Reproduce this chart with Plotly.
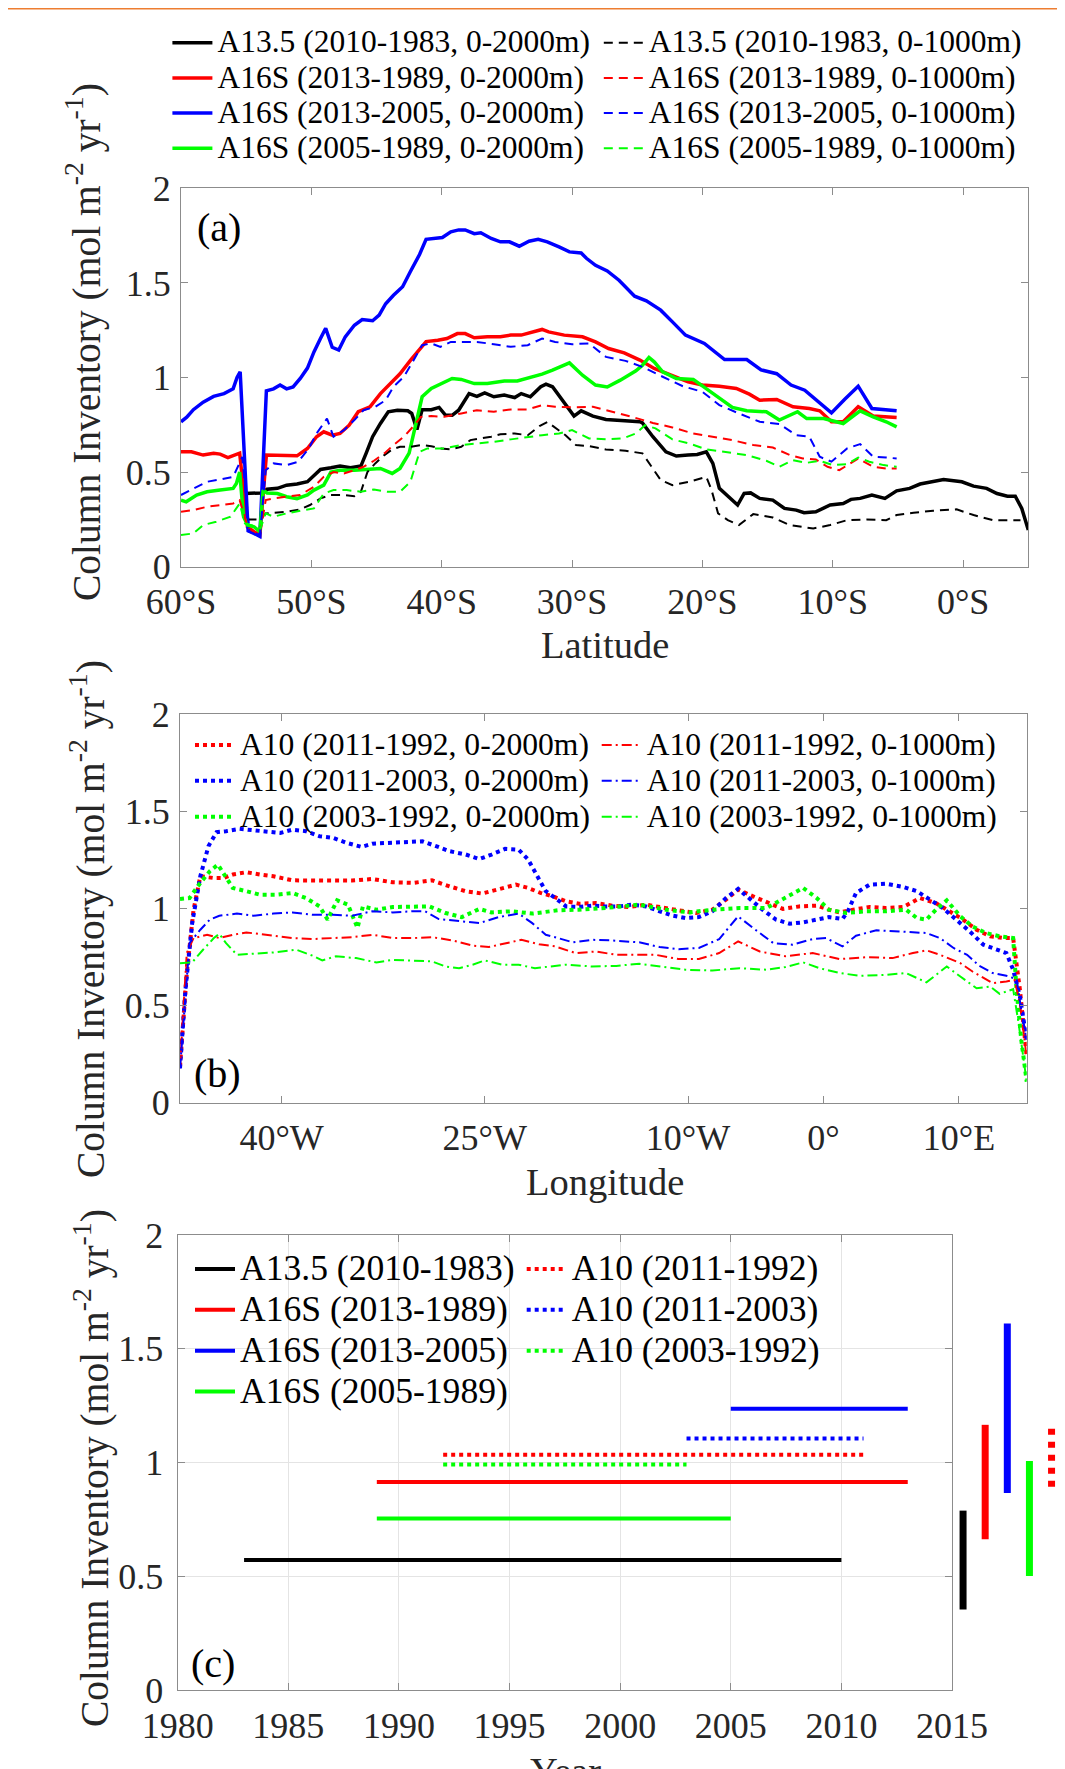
import plotly.graph_objects as go

# ---------------- Panel (a): latitude sections ----------------
a_names = [
    "A13.5 (2010-1983, 0-2000m)", "A16S (2013-1989, 0-2000m)",
    "A16S (2013-2005, 0-2000m)", "A16S (2005-1989, 0-2000m)",
    "A13.5 (2010-1983, 0-1000m)", "A16S (2013-1989, 0-1000m)",
    "A16S (2013-2005, 0-1000m)", "A16S (2005-1989, 0-1000m)",
]
a_lat_tick_vals = [-60, -50, -40, -30, -20, -10, 0]
a_lat_tick_text = ["60°S", "50°S", "40°S", "30°S", "20°S", "10°S", "0°S"]

lat_a135_2000 = [-55.1, -53.8, -53.4, -52.6, -51.9, -51.1, -50.3, -49.8, -49.3, -48.5, -47.8, -47.0, -46.2, -45.8, -45.3, -44.7, -44.1, -43.4, -42.6, -42.3, -41.9, -41.5, -40.8, -40.2, -39.7, -39.2, -38.7, -37.9, -37.3, -36.7, -36.0, -35.2, -34.4, -33.9, -33.2, -32.4, -32.0, -31.5, -30.6, -29.85, -29.3, -28.4, -27.4, -26.1, -24.8, -24.6, -23.8, -22.8, -22.0, -21.1, -20.4, -19.7, -19.2, -18.7, -17.9, -17.3, -16.8, -16.3, -15.6, -14.6, -13.7, -12.8, -12.2, -11.3, -10.2, -9.2, -8.6, -7.9, -7.0, -6.0, -5.1, -4.1, -3.3, -2.5, -1.5, -0.1, 0.8, 1.8, 2.6, 3.4, 4.0, 4.5, 5.0]
val_a135_2000 = [0.387, 0.39, 0.41, 0.414, 0.431, 0.437, 0.449, 0.484, 0.514, 0.523, 0.532, 0.523, 0.532, 0.599, 0.687, 0.757, 0.819, 0.827, 0.824, 0.81, 0.725, 0.83, 0.83, 0.842, 0.80, 0.80, 0.827, 0.915, 0.90, 0.919, 0.898, 0.907, 0.894, 0.915, 0.898, 0.951, 0.965, 0.951, 0.863, 0.796, 0.824, 0.796, 0.778, 0.771, 0.766, 0.76, 0.687, 0.607, 0.585, 0.59, 0.593, 0.607, 0.546, 0.414, 0.361, 0.326, 0.387, 0.39, 0.361, 0.352, 0.308, 0.299, 0.285, 0.29, 0.326, 0.334, 0.356, 0.361, 0.379, 0.361, 0.401, 0.414, 0.437, 0.449, 0.461, 0.449, 0.426, 0.414, 0.387, 0.373, 0.373, 0.308, 0.194]

lat_a16_8913_2000 = [-60, -59.2, -58.3, -57.5, -57.0, -56.4, -55.5, -54.9, -54.4, -53.95, -53.45, -52.6, -51.9, -51.1, -50.3, -49.6, -49.05, -48.4, -47.8, -47.1, -46.4, -45.5, -44.7, -43.9, -43.2, -42.4, -41.7, -41.2, -40.3, -39.6, -38.8, -38.2, -37.5, -36.5, -35.5, -34.7, -33.9, -32.9, -32.3, -31.8, -30.6, -29.2, -28.2, -27.2, -26.0, -24.8, -23.7, -22.4, -21.1, -20.0, -18.7, -17.4, -16.4, -15.6, -14.3, -13.05, -11.8, -11.0, -10.1, -9.2, -8.05, -6.9, -5.1]
val_a16_8913_2000 = [0.607, 0.607, 0.59, 0.60, 0.595, 0.577, 0.60, 0.21, 0.185, 0.167, 0.59, 0.59, 0.59, 0.586, 0.625, 0.687, 0.713, 0.695, 0.704, 0.748, 0.819, 0.845, 0.915, 0.968, 1.02, 1.09, 1.15, 1.19, 1.197, 1.206, 1.232, 1.232, 1.21, 1.215, 1.215, 1.224, 1.224, 1.241, 1.254, 1.241, 1.224, 1.215, 1.188, 1.153, 1.13, 1.092, 1.048, 1.012, 0.977, 0.96, 0.954, 0.942, 0.912, 0.88, 0.884, 0.845, 0.836, 0.824, 0.766, 0.766, 0.845, 0.796, 0.789]

lat_a16_0513_2000 = [-60, -59.56, -59.05, -58.3, -57.5, -56.7, -56.0, -55.7, -55.46, -54.85, -54.4, -53.95, -53.45, -52.9, -52.4, -51.9, -51.4, -50.85, -50.3, -49.8, -49.3, -48.9, -48.4, -47.9, -47.4, -46.7, -46.1, -45.3, -44.8, -44.3, -43.7, -43.0, -42.4, -41.7, -41.2, -40.6, -39.95, -39.3, -38.7, -38.2, -37.5, -37.0, -36.2, -35.5, -34.8, -34.05, -33.3, -32.6, -31.9, -31.0, -30.2, -29.3, -28.9, -28.2, -27.3, -26.4, -25.2, -24.3, -23.2, -22.3, -21.3, -19.85, -19.2, -18.3, -16.6, -15.5, -14.3, -13.2, -12.15, -11.1, -10.1, -9.1, -8.05, -7.0, -6.1, -5.1]
val_a16_0513_2000 = [0.766, 0.79, 0.83, 0.87, 0.90, 0.915, 0.94, 1.0, 1.03, 0.19, 0.176, 0.16, 0.93, 0.94, 0.96, 0.94, 0.95, 0.995, 1.05, 1.135, 1.206, 1.26, 1.16, 1.145, 1.215, 1.276, 1.306, 1.30, 1.33, 1.39, 1.435, 1.48, 1.56, 1.65, 1.73, 1.735, 1.74, 1.77, 1.78, 1.78, 1.76, 1.765, 1.735, 1.717, 1.717, 1.694, 1.72, 1.73, 1.717, 1.69, 1.664, 1.658, 1.63, 1.593, 1.563, 1.514, 1.43, 1.405, 1.356, 1.294, 1.224, 1.18, 1.144, 1.095, 1.095, 1.04, 1.02, 0.96, 0.933, 0.87, 0.813, 0.884, 0.954, 0.836, 0.83, 0.824]

lat_a16_8905_2000 = [-60, -59.6, -58.8, -58.0, -57.0, -56.0, -55.75, -55.5, -55.2, -54.9, -54.4, -53.95, -53.7, -53.4, -52.6, -51.9, -51.1, -50.3, -49.8, -49.05, -48.5, -47.8, -46.7, -45.7, -44.7, -43.8, -43.2, -42.5, -42.0, -41.5, -40.8, -39.95, -39.2, -38.5, -37.5, -36.5, -35.2, -34.2, -33.2, -32.3, -31.5, -30.2, -29.2, -28.2, -27.3, -26.3, -25.1, -24.6, -24.1, -23.7, -23.05, -22.0, -20.7, -19.7, -18.7, -17.7, -16.6, -15.1, -14.1, -12.7, -12.0, -10.7, -9.2, -7.9, -6.9, -5.9, -5.1]
val_a16_8905_2000 = [0.352, 0.343, 0.379, 0.396, 0.405, 0.414, 0.44, 0.50, 0.264, 0.22, 0.211, 0.185, 0.405, 0.39, 0.387, 0.37, 0.36, 0.379, 0.405, 0.431, 0.50, 0.51, 0.51, 0.516, 0.519, 0.493, 0.519, 0.60, 0.757, 0.898, 0.942, 0.968, 0.995, 0.99, 0.968, 0.968, 0.982, 0.982, 1.0, 1.018, 1.039, 1.077, 1.012, 0.96, 0.95, 0.986, 1.035, 1.065, 1.106, 1.083, 1.03, 0.995, 0.99, 0.942, 0.89, 0.842, 0.824, 0.819, 0.775, 0.819, 0.783, 0.783, 0.757, 0.824, 0.792, 0.766, 0.739]

lat_a135_1000 = [-54.9, -53.9, -53.5, -52.9, -51.9, -50.85, -50.1, -49.3, -48.5, -47.5, -46.7, -46.2, -45.7, -45.1, -44.4, -43.8, -43.2, -42.4, -41.6, -40.8, -40.1, -39.3, -38.5, -37.8, -37.0, -36.2, -35.5, -34.4, -33.4, -32.5, -31.9, -31.2, -30.5, -29.7, -28.7, -27.4, -25.9, -24.6, -23.9, -23.2, -22.3, -21.0, -19.7, -19.3, -18.8, -18.05, -17.2, -16.1, -14.6, -13.3, -11.5, -10.2, -8.9, -7.4, -5.9, -5.1, -3.8, -2.3, -0.5, 0.8, 2.3, 3.4, 4.4]
val_a135_1000 = [0.25, 0.25, 0.282, 0.285, 0.29, 0.303, 0.326, 0.361, 0.379, 0.379, 0.373, 0.396, 0.50, 0.546, 0.59, 0.62, 0.634, 0.634, 0.643, 0.637, 0.625, 0.62, 0.634, 0.669, 0.678, 0.687, 0.70, 0.704, 0.695, 0.743, 0.765, 0.73, 0.695, 0.643, 0.637, 0.62, 0.613, 0.599, 0.528, 0.458, 0.431, 0.449, 0.475, 0.405, 0.282, 0.246, 0.22, 0.278, 0.26, 0.22, 0.202, 0.22, 0.246, 0.25, 0.246, 0.273, 0.285, 0.296, 0.303, 0.273, 0.246, 0.246, 0.246]

lat_a16_8913_1000 = [-60, -59.05, -58.0, -57.0, -56.0, -55.5, -54.85, -53.95, -53.5, -52.9, -51.9, -50.85, -49.8, -49.05, -48.3, -47.5, -46.7, -46.0, -45.2, -44.4, -43.7, -42.9, -42.1, -41.6, -40.8, -39.8, -38.5, -37.3, -36.0, -34.7, -33.4, -32.3, -31.3, -30.0, -28.4, -26.9, -25.4, -23.8, -22.3, -20.7, -19.2, -17.7, -16.1, -14.6, -13.3, -12.3, -11.3, -10.4, -9.5, -8.05, -6.9, -5.9, -5.1]
val_a16_8913_1000 = [0.29, 0.299, 0.317, 0.326, 0.334, 0.352, 0.202, 0.167, 0.352, 0.361, 0.37, 0.379, 0.423, 0.475, 0.50, 0.493, 0.51, 0.528, 0.56, 0.599, 0.643, 0.687, 0.748, 0.792, 0.796, 0.792, 0.81, 0.827, 0.819, 0.831, 0.831, 0.854, 0.845, 0.842, 0.845, 0.819, 0.792, 0.76, 0.736, 0.704, 0.687, 0.669, 0.643, 0.63, 0.59, 0.572, 0.567, 0.528, 0.51, 0.572, 0.528, 0.519, 0.519]

lat_a16_0513_1000 = [-60, -59.05, -58.0, -57.0, -56.0, -55.3, -54.75, -53.95, -53.5, -52.9, -51.9, -51.0, -50.2, -49.6, -48.8, -48.3, -47.5, -46.7, -46.0, -45.1, -44.3, -43.7, -42.9, -42.3, -41.5, -40.8, -40.1, -39.3, -38.3, -37.3, -36.0, -34.7, -33.4, -32.3, -31.3, -30.0, -28.7, -27.4, -25.9, -24.6, -23.05, -21.5, -20.0, -18.7, -17.2, -15.6, -14.1, -12.8, -11.8, -11.0, -10.1, -8.9, -7.9, -6.9, -5.9, -5.1]
val_a16_0513_1000 = [0.379, 0.414, 0.449, 0.461, 0.475, 0.58, 0.185, 0.162, 0.51, 0.546, 0.537, 0.555, 0.625, 0.704, 0.783, 0.687, 0.722, 0.775, 0.827, 0.845, 0.88, 0.951, 1.004, 1.074, 1.171, 1.18, 1.162, 1.188, 1.188, 1.188, 1.176, 1.162, 1.171, 1.206, 1.188, 1.176, 1.18, 1.109, 1.088, 1.056, 1.004, 0.954, 0.924, 0.854, 0.81, 0.766, 0.754, 0.695, 0.687, 0.581, 0.555, 0.625, 0.648, 0.581, 0.577, 0.572]

lat_a16_8905_1000 = [-60, -59.05, -58.3, -57.3, -56.2, -55.5, -55.1, -54.6, -53.9, -53.5, -52.9, -51.9, -50.85, -49.8, -49.05, -48.3, -47.3, -46.2, -45.2, -44.2, -43.2, -42.4, -41.7, -41.1, -39.8, -38.5, -37.3, -36.0, -34.7, -33.4, -32.3, -31.0, -30.0, -28.7, -27.4, -26.1, -25.1, -24.4, -23.6, -22.3, -21.0, -19.7, -18.2, -16.6, -15.1, -14.1, -13.05, -12.0, -11.0, -10.0, -8.9, -8.05, -7.2, -6.1, -5.1]
val_a16_8905_1000 = [0.167, 0.176, 0.22, 0.238, 0.264, 0.334, 0.229, 0.22, 0.202, 0.282, 0.264, 0.282, 0.296, 0.308, 0.387, 0.405, 0.405, 0.396, 0.408, 0.396, 0.396, 0.449, 0.607, 0.625, 0.625, 0.643, 0.651, 0.66, 0.673, 0.687, 0.695, 0.704, 0.722, 0.678, 0.673, 0.678, 0.704, 0.748, 0.731, 0.673, 0.651, 0.62, 0.607, 0.59, 0.56, 0.528, 0.563, 0.549, 0.56, 0.537, 0.542, 0.577, 0.555, 0.537, 0.528]

# ---------------- Panel (b): A10 longitude section ----------------
b_names = [
    "A10 (2011-1992, 0-2000m)", "A10 (2011-2003, 0-2000m)", "A10 (2003-1992, 0-2000m)",
    "A10 (2011-1992, 0-1000m)", "A10 (2011-2003, 0-1000m)", "A10 (2003-1992, 0-1000m)",
]
b_lon_tick_vals = [-40, -25, -10, 0, 10]
b_lon_tick_text = ["40°W", "25°W", "10°W", "0°", "10°E"]

lon_r_2000 = [-47.5, -47.0, -46.5, -46.0, -45.0, -44.3, -43.6, -42.6, -41.6, -40.6, -39.2, -37.7, -36.2, -34.8, -33.3, -31.8, -30.3, -28.9, -27.6, -26.4, -25.2, -24.0, -22.7, -21.8, -20.9, -20.0, -19.0, -18.05, -16.8, -15.6, -14.4, -13.1, -11.9, -10.7, -9.4, -8.2, -7.2, -6.3, -5.2, -4.0, -3.0, -1.8, -0.5, 0.4, 1.2, 2.2, 3.4, 4.6, 5.9, 7.1, 8.3, 9.3, 10.3, 11.3, 12.3, 13.3, 14.0, 14.5, 15.0]
val_r_2000 = [0.186, 0.667, 0.993, 1.165, 1.156, 1.156, 1.174, 1.186, 1.174, 1.165, 1.144, 1.143, 1.143, 1.143, 1.151, 1.134, 1.131, 1.144, 1.113, 1.088, 1.076, 1.10, 1.122, 1.105, 1.08, 1.062, 1.036, 1.024, 1.027, 1.014, 1.007, 1.019, 1.002, 0.99, 0.976, 0.993, 1.045, 1.096, 1.062, 1.027, 0.997, 1.01, 1.014, 0.993, 0.979, 0.993, 1.007, 1.002, 1.007, 1.053, 1.027, 0.985, 0.942, 0.89, 0.856, 0.847, 0.847, 0.581, 0.237]

lon_b_2000 = [-47.5, -47.1, -46.6, -46.0, -45.4, -44.8, -44.1, -43.1, -42.1, -41.1, -40.1, -39.2, -38.2, -37.2, -36.2, -35.2, -34.1, -33.3, -32.1, -30.8, -29.6, -28.6, -27.6, -26.4, -25.4, -24.5, -23.5, -22.5, -21.8, -21.0, -20.5, -19.8, -19.0, -18.05, -17.1, -16.1, -15.1, -14.1, -13.1, -12.1, -11.1, -10.2, -9.2, -8.2, -7.2, -6.3, -5.5, -4.5, -3.5, -2.5, -1.5, -0.5, 0.4, 1.4, 1.8, 2.4, 3.4, 4.6, 5.9, 6.9, 7.8, 8.8, 9.8, 10.8, 11.8, 12.8, 13.5, 14.0, 14.5, 15.0]
val_b_2000 = [0.177, 0.58, 0.924, 1.165, 1.32, 1.392, 1.397, 1.409, 1.402, 1.397, 1.388, 1.405, 1.397, 1.371, 1.363, 1.337, 1.316, 1.333, 1.337, 1.34, 1.345, 1.32, 1.294, 1.277, 1.254, 1.277, 1.306, 1.302, 1.251, 1.15, 1.088, 1.053, 1.01, 1.007, 1.014, 1.01, 1.01, 1.019, 1.01, 0.985, 0.962, 0.95, 0.955, 0.985, 1.053, 1.10, 1.053, 0.993, 0.942, 0.921, 0.928, 0.945, 0.955, 0.945, 0.985, 1.079, 1.122, 1.127, 1.11, 1.088, 1.045, 1.002, 0.942, 0.881, 0.813, 0.787, 0.77, 0.684, 0.546, 0.323]

lon_g_2000 = [-47.5, -46.8, -46.0, -45.3, -44.7, -44.2, -43.6, -42.6, -41.6, -40.4, -39.2, -38.2, -37.2, -36.6, -35.9, -35.1, -34.4, -34.0, -33.0, -31.8, -30.3, -29.1, -27.9, -26.7, -25.4, -24.5, -23.0, -21.5, -19.6, -18.05, -16.1, -13.6, -11.6, -9.9, -8.2, -6.2, -4.2, -2.8, -1.5, -0.5, 0.4, 1.7, 3.2, 4.6, 6.1, 6.9, 7.6, 8.3, 9.1, 10.1, 11.0, 12.0, 13.0, 14.0, 14.25, 14.6, 15.0]
val_g_2000 = [1.048, 1.053, 1.131, 1.191, 1.225, 1.174, 1.105, 1.088, 1.07, 1.07, 1.079, 1.053, 1.01, 0.942, 1.041, 1.019, 0.899, 1.01, 0.993, 1.007, 1.01, 1.01, 0.976, 0.955, 0.997, 0.979, 0.985, 0.973, 0.99, 0.993, 1.002, 1.019, 0.993, 0.979, 0.993, 1.002, 1.002, 1.053, 1.105, 1.053, 0.993, 0.976, 0.985, 0.985, 0.993, 0.95, 0.942, 0.993, 1.041, 0.959, 0.907, 0.873, 0.856, 0.847, 0.581, 0.323, 0.108]

lon_r_1000 = [-47.5, -47.0, -46.5, -45.5, -44.6, -43.6, -42.6, -41.1, -39.2, -37.7, -36.2, -34.8, -33.3, -31.8, -30.3, -28.9, -27.4, -25.9, -24.7, -23.5, -22.3, -21.0, -19.8, -18.3, -16.8, -15.3, -13.6, -12.4, -10.7, -9.2, -7.7, -6.3, -4.7, -2.8, -0.8, 1.2, 3.2, 5.1, 6.6, 7.6, 8.6, 10.1, 11.0, 12.5, 13.5, 14.1, 14.5, 15.0]
val_r_1000 = [0.186, 0.77, 0.847, 0.864, 0.847, 0.864, 0.876, 0.864, 0.847, 0.842, 0.847, 0.852, 0.864, 0.847, 0.847, 0.852, 0.835, 0.808, 0.801, 0.821, 0.838, 0.815, 0.804, 0.77, 0.778, 0.761, 0.761, 0.761, 0.739, 0.739, 0.77, 0.83, 0.778, 0.753, 0.77, 0.739, 0.749, 0.744, 0.77, 0.784, 0.761, 0.718, 0.675, 0.615, 0.624, 0.632, 0.512, 0.237]

lon_b_1000 = [-47.5, -46.8, -46.0, -45.3, -44.6, -43.3, -42.1, -40.6, -39.2, -37.7, -36.2, -34.8, -33.3, -31.8, -30.3, -29.4, -28.4, -26.9, -25.4, -24.0, -22.5, -21.5, -20.5, -19.6, -18.5, -17.1, -15.6, -13.6, -12.1, -10.7, -9.2, -7.7, -6.3, -5.2, -3.7, -2.3, -0.8, 0.2, 1.4, 2.4, 3.9, 5.6, 7.6, 8.6, 9.6, 10.6, 11.5, 12.5, 13.5, 14.25, 14.6, 15.0]
val_b_1000 = [0.177, 0.821, 0.89, 0.942, 0.962, 0.973, 0.962, 0.973, 0.979, 0.967, 0.967, 0.962, 0.985, 0.979, 0.985, 0.985, 0.945, 0.936, 0.924, 0.955, 0.973, 0.924, 0.864, 0.847, 0.825, 0.838, 0.835, 0.825, 0.801, 0.79, 0.796, 0.842, 0.959, 0.899, 0.821, 0.813, 0.842, 0.847, 0.804, 0.859, 0.887, 0.881, 0.873, 0.847, 0.796, 0.761, 0.704, 0.667, 0.653, 0.636, 0.478, 0.323]

lon_g_1000 = [-47.5, -46.6, -45.8, -45.0, -44.6, -44.1, -43.3, -42.1, -40.6, -38.9, -37.7, -37.0, -36.0, -34.5, -33.0, -31.8, -30.3, -28.9, -27.9, -26.9, -25.9, -25.0, -23.7, -22.5, -21.3, -19.6, -19.0, -17.1, -15.3, -13.6, -12.1, -10.2, -8.2, -6.2, -4.2, -2.8, -1.5, -0.3, 1.2, 2.7, 4.6, 6.1, 7.6, 8.3, 9.1, 10.1, 11.3, 12.3, 13.0, 14.0, 14.4, 15.0]
val_g_1000 = [0.718, 0.722, 0.787, 0.847, 0.869, 0.821, 0.761, 0.765, 0.773, 0.787, 0.756, 0.732, 0.753, 0.744, 0.722, 0.735, 0.732, 0.727, 0.701, 0.692, 0.71, 0.732, 0.71, 0.71, 0.692, 0.704, 0.71, 0.701, 0.704, 0.715, 0.701, 0.684, 0.68, 0.692, 0.684, 0.698, 0.722, 0.692, 0.667, 0.653, 0.658, 0.667, 0.619, 0.658, 0.701, 0.649, 0.589, 0.598, 0.56, 0.584, 0.409, 0.108]

# ---------------- Panel (c): section means over time ----------------
c_names = ["A13.5 (2010-1983)", "A16S (2013-1989)", "A16S (2013-2005)", "A16S (2005-1989)",
           "A10 (2011-1992)", "A10 (2011-2003)", "A10 (2003-1992)"]
c_start = [1983, 1989, 2005, 1989, 1992, 2003, 1992]
c_end = [2010, 2013, 2013, 2005, 2011, 2011, 2003]
c_mean = [0.572, 0.915, 1.237, 0.754, 1.035, 1.106, 0.992]
bar_x = [2015.5, 2016.5, 2017.5, 2018.5, 2019.5]
bar_lo = [0.355, 0.663, 0.866, 0.502, 0.894]
bar_hi = [0.789, 1.166, 1.611, 1.007, 1.158]

# ---------------- styling ----------------
W, H = 1065, 1769
OFF = 8  # the page body adds an 8px margin around the figure
BLACK, RED, BLUE, GREEN = "#000000", "#FF0000", "#0000FF", "#00FF00"
FONT = "Liberation Serif"
AXC = "#8c8c8c"


def px_x(p):
    return (p - OFF) / W


def px_y(p):
    return 1 - (p - OFF) / H


def lbl(text, size):
    return f'<span style="font-size:{size}px">{text}</span>'


fig = go.Figure()


def line(x, y, xa, ya, color, width, dash, name=None, legend=None):
    fig.add_trace(go.Scatter(
        x=x, y=y, xaxis=xa, yaxis=ya, mode="lines",
        line=dict(color=color, width=width, dash=dash),
        name=name if name else "", legend=legend,
        showlegend=name is not None, hoverinfo="skip"))


# panel (a)
DASH_A = "9px,6px"
a_series = [
    (lat_a135_2000, val_a135_2000, BLACK, 3.5, "solid", "legend"),
    (lat_a16_8913_2000, val_a16_8913_2000, RED, 3.5, "solid", "legend"),
    (lat_a16_0513_2000, val_a16_0513_2000, BLUE, 3.5, "solid", "legend"),
    (lat_a16_8905_2000, val_a16_8905_2000, GREEN, 3.5, "solid", "legend"),
    (lat_a135_1000, val_a135_1000, BLACK, 2, DASH_A, "legend2"),
    (lat_a16_8913_1000, val_a16_8913_1000, RED, 2, DASH_A, "legend2"),
    (lat_a16_0513_1000, val_a16_0513_1000, BLUE, 2, DASH_A, "legend2"),
    (lat_a16_8905_1000, val_a16_8905_1000, GREEN, 2, DASH_A, "legend2"),
]
for (x, y, c, w, d, lg), nm in zip(a_series, a_names):
    line(x, y, "x", "y", c, w, d, lbl(nm, 31.5), lg)

# panel (b)
DASHDOT_B = "10px,4px,2px,4px"
b_series = [
    (lon_r_2000, val_r_2000, RED, 4, "dot", "legend3"),
    (lon_b_2000, val_b_2000, BLUE, 4, "dot", "legend3"),
    (lon_g_2000, val_g_2000, GREEN, 4, "dot", "legend3"),
    (lon_r_1000, val_r_1000, RED, 2, DASHDOT_B, "legend4"),
    (lon_b_1000, val_b_1000, BLUE, 2, DASHDOT_B, "legend4"),
    (lon_g_1000, val_g_1000, GREEN, 2, DASHDOT_B, "legend4"),
]
for (x, y, c, w, d, lg), nm in zip(b_series, b_names):
    line(x, y, "x2", "y2", c, w, d, lbl(nm, 31.6), lg)

# panel (c)
c_colors = [BLACK, RED, BLUE, GREEN, RED, BLUE, GREEN]
c_dash = ["solid"] * 4 + ["dot"] * 3
c_leg = ["legend5"] * 4 + ["legend6"] * 3
for i, nm in enumerate(c_names):
    line([c_start[i], c_end[i]], [c_mean[i], c_mean[i]], "x3", "y3",
         c_colors[i], 4, c_dash[i], lbl(nm, 35.6), c_leg[i])
for i in range(len(bar_x)):
    line([bar_x[i], bar_x[i]], [bar_lo[i], bar_hi[i]], "x4", "y4",
         c_colors[i], 7, "6px,7px" if c_dash[i] == "dot" else "solid")

axis_common = dict(
    showline=True, linecolor=AXC, linewidth=1.3, mirror="ticks",
    ticks="inside", ticklen=7, tickwidth=1.3, tickcolor=AXC,
    tickfont=dict(family=FONT, size=36, color="#262626"),
    showgrid=False, zeroline=False, fixedrange=True, automargin=False,
)
yvals = [0, 0.5, 1, 1.5, 2]
ytext = ["0", "0.5", "1", "1.5", "2"]

a_top, a_bot, a_l, a_r = 188.3, 566.7, 181.0, 1028.3
b_top, b_bot, b_l, b_r = 714.0, 1102.7, 180.0, 1026.7
c_top, c_bot, c_l, c_r = 1235.0, 1690.2, 177.7, 952.0
c_year0, c_year1 = 1980, 2015
c_ext_r = 1064.0
c_ext_year = c_year0 + (c_ext_r - c_l) * (c_year1 - c_year0) / (c_r - c_l)

xstand = dict(ticklabelstandoff=3)
ystand = dict(ticklabelstandoff=2)

fig.update_layout(
    width=W, height=H, margin=dict(l=0, r=0, t=0, b=0, pad=0, autoexpand=False),
    paper_bgcolor="white", plot_bgcolor="rgba(0,0,0,0)",
    font=dict(family=FONT, color="#262626"),
    xaxis=dict(axis_common, **xstand, domain=[px_x(a_l), px_x(a_r)], range=[-60, 5],
               tickvals=a_lat_tick_vals, ticktext=a_lat_tick_text, anchor="y"),
    yaxis=dict(axis_common, **ystand, domain=[px_y(a_bot), px_y(a_top)], range=[0, 2],
               tickvals=yvals, ticktext=ytext, anchor="x"),
    xaxis2=dict(axis_common, **xstand, domain=[px_x(b_l), px_x(b_r)], range=[-47.5, 15],
                tickvals=b_lon_tick_vals, ticktext=b_lon_tick_text, anchor="y2"),
    yaxis2=dict(axis_common, **ystand, domain=[px_y(b_bot), px_y(b_top)], range=[0, 2],
                tickvals=yvals, ticktext=ytext, anchor="x2"),
    xaxis3=dict(axis_common, **xstand, domain=[px_x(c_l), px_x(c_r)], range=[c_year0, c_year1],
                tickvals=list(range(1980, 2016, 5)), anchor="y3",
                showgrid=True, gridcolor="#e4e4e4", gridwidth=1),
    yaxis3=dict(axis_common, ticklabelstandoff=6, domain=[px_y(c_bot), px_y(c_top)], range=[0, 2],
                tickvals=yvals, ticktext=ytext, anchor="x3",
                showgrid=True, gridcolor="#e4e4e4", gridwidth=1),
    xaxis4=dict(domain=[px_x(c_l), px_x(c_ext_r)], range=[c_year0, c_ext_year],
                visible=False, anchor="y4", fixedrange=True),
    yaxis4=dict(domain=[px_y(c_bot), px_y(c_top)], range=[0, 2],
                visible=False, anchor="x4", fixedrange=True),
    showlegend=True,
)


def legend_box(x_text, y_first, spacing):
    fs = (spacing - 3) / 1.3
    top = y_first - 5 - spacing / 2
    return dict(x=px_x(x_text - 50), y=px_y(top), xanchor="left", yanchor="top",
                font=dict(family=FONT, size=fs, color="#000000"),
                bgcolor="rgba(0,0,0,0)", borderwidth=0, itemwidth=40,
                traceorder="normal")


fig.update_layout(
    legend=legend_box(217.4, 42.7, 35.2),
    legend2=legend_box(648.8, 42.7, 35.2),
    legend3=legend_box(240.0, 745.0, 35.85),
    legend4=legend_box(646.7, 745.0, 35.85),
    legend5=legend_box(240.0, 1269.0, 40.87),
    legend6=legend_box(571.7, 1269.0, 40.87),
)

ytitle = "Column Inventory (mol m<sup>-2</sup> yr<sup>-1</sup>)"
annots = [
    dict(text=ytitle, x=px_x(83), y=px_y(342), textangle=-90, size=39.5),
    dict(text=ytitle, x=px_x(87), y=px_y(919), textangle=-90, size=39.5),
    dict(text=ytitle, x=px_x(91), y=px_y(1468), textangle=-90, size=39.5),
    dict(text="Latitude", x=px_x(605), y=px_y(645), textangle=0, size=38.5),
    dict(text="Longitude", x=px_x(604.5), y=px_y(1182), textangle=0, size=38.5),
    dict(text="Year", x=px_x(565), y=px_y(1771), textangle=0, size=38.5),
]
for a in annots:
    fig.add_annotation(text=a["text"], x=a["x"], y=a["y"], xref="paper", yref="paper",
                       xanchor="center", yanchor="middle", textangle=a["textangle"],
                       showarrow=False, font=dict(family=FONT, size=a["size"], color="#262626"))

for txt, xl, yc in [("(a)", 195, 227), ("(b)", 192, 1073), ("(c)", 189, 1663)]:
    fig.add_annotation(text=txt, x=px_x(xl), y=px_y(yc), xref="paper", yref="paper",
                       xanchor="left", yanchor="middle", showarrow=False,
                       font=dict(family=FONT, size=40, color="#000000"))

# thin orange rule along the very top edge of the picture
fig.add_shape(type="line", xref="paper", yref="paper", x0=0, x1=1,
              y0=1, y1=1, line=dict(color="#ED7D31", width=3))

fig.write_html("out.html")
